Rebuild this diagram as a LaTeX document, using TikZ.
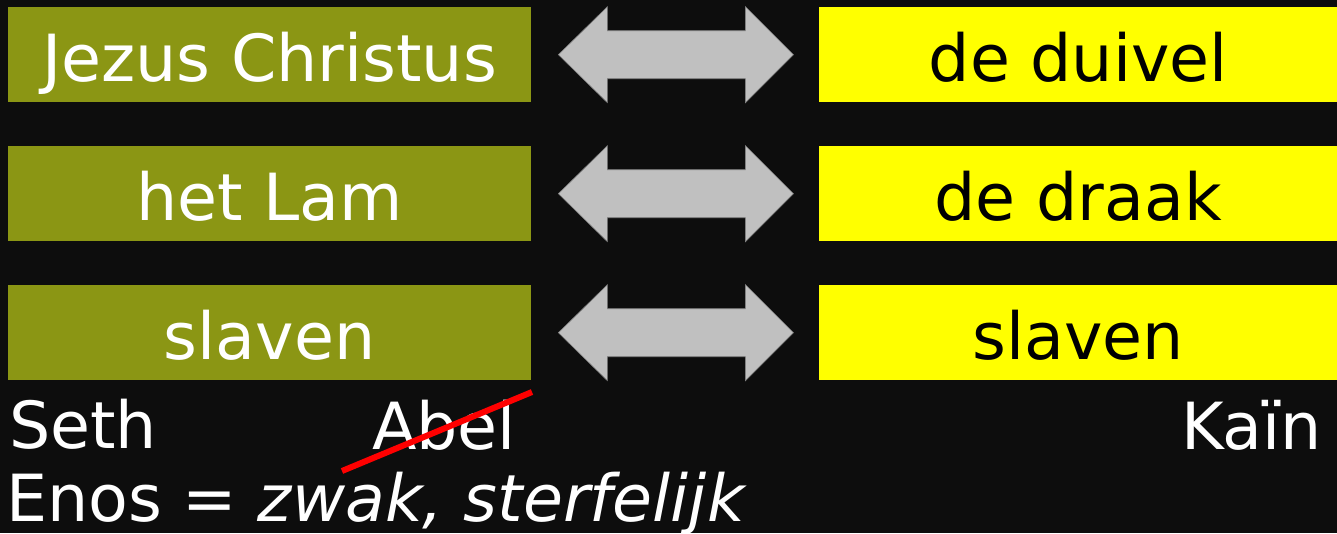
\documentclass[tikz,border=0pt]{standalone}
\usepackage{fontspec}
\setmainfont{DejaVu Sans}
\usetikzlibrary{positioning, calc}
\definecolor{bgdark}{RGB}{13,13,13}
\definecolor{sethgreen}{RGB}{139,150,20}
\definecolor{kainyellow}{RGB}{255,255,0}
\definecolor{arrowgrey}{RGB}{192,192,192}
\newcommand{\bigfont}{\fontsize{65}{78}\selectfont}

\begin{document}
\begin{tikzpicture}[x=1pt, y=-1pt,
    rowbox/.style={anchor=north west, inner sep=0pt, minimum width=523pt,
        text height=74pt, text depth=21pt, font=\bigfont},
    goodbox/.style={rowbox, fill=sethgreen, text=white},
    evilbox/.style={rowbox, fill=kainyellow, text=black, minimum width=518pt},
    personname/.style={inner sep=0pt, text=white, font=\bigfont},
    blockarrow/.style={fill=arrowgrey, draw=gray, line width=0.6pt}]
    % Background
    \fill[bgdark] (0,0) rectangle (1337,533);
    \useasboundingbox (0,0) rectangle (1337,533);

    % Left column
    \node[goodbox] (g1) at (8,7) {Jezus Christus};
    \node[goodbox] (g2) at (8,146) {het Lam};
    \node[goodbox] (g3) at (8,285) {slaven};

    % Right column
    \node[evilbox] (e1) at (819,7) {de duivel};
    \node[evilbox] (e2) at (819,146) {de draak};
    \node[evilbox] (e3) at (819,285) {slaven};

    % Double arrows between the columns
    \foreach \i in {1,2,3} {
        \draw[blockarrow] ($(g\i.east)+(27,0)$) -- ++(49,-48) -- ++(0,24)
            -- ++(138,0) -- ++(0,-24) -- ++(48,48) -- ++(-48,48) -- ++(0,-24)
            -- ++(-138,0) -- ++(0,24) -- cycle;
    }

    % Names below
    \node[personname, anchor=base west] (seth) at (9,448) {Seth};
    \node[personname, anchor=base west] (abel) at (372,449) {Abel};
    \node[personname, anchor=base east] (kain) at (1322,449) {Kaïn};
    \node[personname, anchor=base west] (enos) at (6,521) {Enos = \textit{zwak, sterfelijk}};

    % Abel crossed out
    \coordinate (cross1) at (342,471);
    \coordinate (cross2) at (532,392);
    \draw[red, line width=6pt] (cross1) -- (cross2);
\end{tikzpicture}
\end{document}
